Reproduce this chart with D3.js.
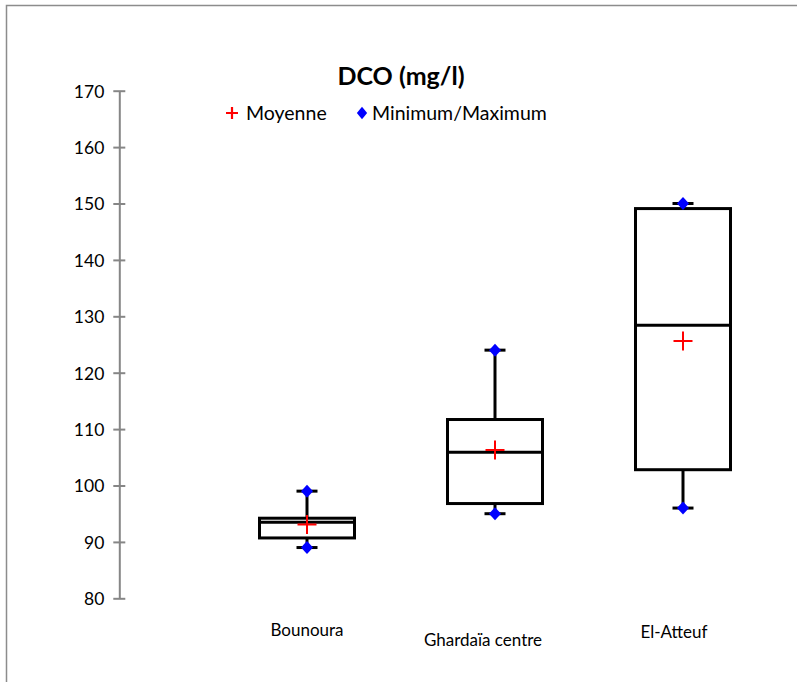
<!DOCTYPE html>
<html>
<head>
<meta charset="utf-8">
<script src="https://cdn.jsdelivr.net/npm/d3@7"></script>
<style>
  html, body { margin: 0; padding: 0; background: #fff; }
  svg { display: block; }
  text { font-family: Lato, "Open Sans", sans-serif; fill: #000; }
</style>
</head>
<body>
<svg id="chart" width="797" height="682"></svg>
<script>
// DCO (mg/l) by site: five-number summary plus mean
const sites   = ["Bounoura", "Ghardaïa centre", "El-Atteuf"];
const minimum = [89, 95, 96];
const q1      = [90.7, 96.8, 102.8];
const median  = [93.5, 105.9, 128.4];
const q3      = [94.2, 111.7, 149.1];
const maximum = [99, 124, 150];
const mean    = [93.1, 106.3, 125.6];
const yTicks  = [80, 90, 100, 110, 120, 130, 140, 150, 160, 170];

const rows = sites.map((s, i) => ({
  site: s, min: minimum[i], q1: q1[i], med: median[i], q3: q3[i], max: maximum[i], mean: mean[i]
}));

const svg = d3.select("#chart");

// outer frame
svg.append("rect")
  .attr("x", 6.5).attr("y", 5.5)
  .attr("width", 820).attr("height", 700)
  .attr("fill", "none").attr("stroke", "#8c8c8c").attr("stroke-width", 1.5);

const y = d3.scaleLinear().domain([80, 170]).range([598.3, 90.7]);
const x = d3.scaleBand().domain(sites).range([213, 777]).padding(0);
const cx = s => x(s) + x.bandwidth() / 2;
const boxW = 95, capW = 21;

// title
svg.append("text")
  .attr("x", 401).attr("y", 85)
  .attr("text-anchor", "middle")
  .style("font-size", "25px").style("font-weight", "bold")
  .text("DCO (mg/l)");

// y axis
const yAxis = d3.axisLeft(y).tickValues(yTicks).tickSize(6).tickPadding(9).tickSizeOuter(0);
const gy = svg.append("g").attr("transform", "translate(119.3,0)").call(yAxis);
gy.select(".domain").attr("stroke", "#868686").attr("stroke-width", 2);
gy.selectAll(".tick line").attr("stroke", "#868686").attr("stroke-width", 2).attr("x1", 6);
gy.selectAll(".tick text").style("font-size", "17.5px").attr("dy", "0.36em")
  .style("font-family", "Lato, sans-serif").attr("fill", "#000").attr("x", -15);

// boxes
const g = svg.append("g");
const box = g.selectAll("g.box").data(rows).join("g").attr("class", "box");

box.append("line") // upper whisker
  .attr("x1", d => cx(d.site)).attr("x2", d => cx(d.site))
  .attr("y1", d => y(d.q3)).attr("y2", d => y(d.max))
  .attr("stroke", "#000").attr("stroke-width", 3);
box.append("line") // lower whisker
  .attr("x1", d => cx(d.site)).attr("x2", d => cx(d.site))
  .attr("y1", d => y(d.q1)).attr("y2", d => y(d.min))
  .attr("stroke", "#000").attr("stroke-width", 3);
box.append("line") // upper cap
  .attr("x1", d => cx(d.site) - capW / 2).attr("x2", d => cx(d.site) + capW / 2)
  .attr("y1", d => y(d.max)).attr("y2", d => y(d.max))
  .attr("stroke", "#000").attr("stroke-width", 3);
box.append("line") // lower cap
  .attr("x1", d => cx(d.site) - capW / 2).attr("x2", d => cx(d.site) + capW / 2)
  .attr("y1", d => y(d.min)).attr("y2", d => y(d.min))
  .attr("stroke", "#000").attr("stroke-width", 3);
box.append("rect")
  .attr("x", d => cx(d.site) - boxW / 2).attr("width", boxW)
  .attr("y", d => y(d.q3)).attr("height", d => y(d.q1) - y(d.q3))
  .attr("fill", "#fff").attr("stroke", "#000").attr("stroke-width", 3);
box.append("line") // median
  .attr("x1", d => cx(d.site) - boxW / 2).attr("x2", d => cx(d.site) + boxW / 2)
  .attr("y1", d => y(d.med)).attr("y2", d => y(d.med))
  .attr("stroke", "#000").attr("stroke-width", 3);

// min / max diamonds
const diamond = d3.symbol().type(d3.symbolDiamond).size(60);
box.selectAll("path.mm").data(d => [[d.site, d.min], [d.site, d.max]]).join("path")
  .attr("class", "mm")
  .attr("d", diamond)
  .attr("transform", d => `translate(${cx(d[0])},${y(d[1])}) scale(1.45,0.9)`)
  .attr("fill", "#0000ff");

// mean crosses
const crossHalf = 9.5;
box.append("path")
  .attr("d", d => {
    const px = cx(d.site), py = y(d.mean);
    return `M${px - crossHalf},${py}H${px + crossHalf}M${px},${py - crossHalf}V${py + crossHalf}`;
  })
  .attr("stroke", "#ff0000").attr("stroke-width", 2).attr("fill", "none");

// category labels (Ghardaïa label sits lower, as in the original layout)
const labelNudge = { "Bounoura": [0, 0], "Ghardaïa centre": [-12, 10], "El-Atteuf": [-9, 2] };
svg.selectAll("text.cat").data(sites).join("text")
  .attr("class", "cat")
  .attr("x", d => cx(d) + labelNudge[d][0])
  .attr("y", d => 636 + labelNudge[d][1])
  .attr("text-anchor", "middle")
  .style("font-size", "17px")
  .text(d => d);

// legend
const lg = svg.append("g");
lg.append("path")
  .attr("d", "M226,113H238M232,107V119")
  .attr("stroke", "#ff0000").attr("stroke-width", 2.2);
lg.append("text").attr("x", 246).attr("y", 120).style("font-size", "19.5px").text("Moyenne");
lg.append("path")
  .attr("d", d3.symbol().type(d3.symbolDiamond).size(50))
  .attr("transform", "translate(362,113) scale(1.35,0.95)")
  .attr("fill", "#0000ff");
lg.append("text").attr("x", 372).attr("y", 120).style("font-size", "19.5px").text("Minimum/Maximum");
</script>
</body>
</html>
